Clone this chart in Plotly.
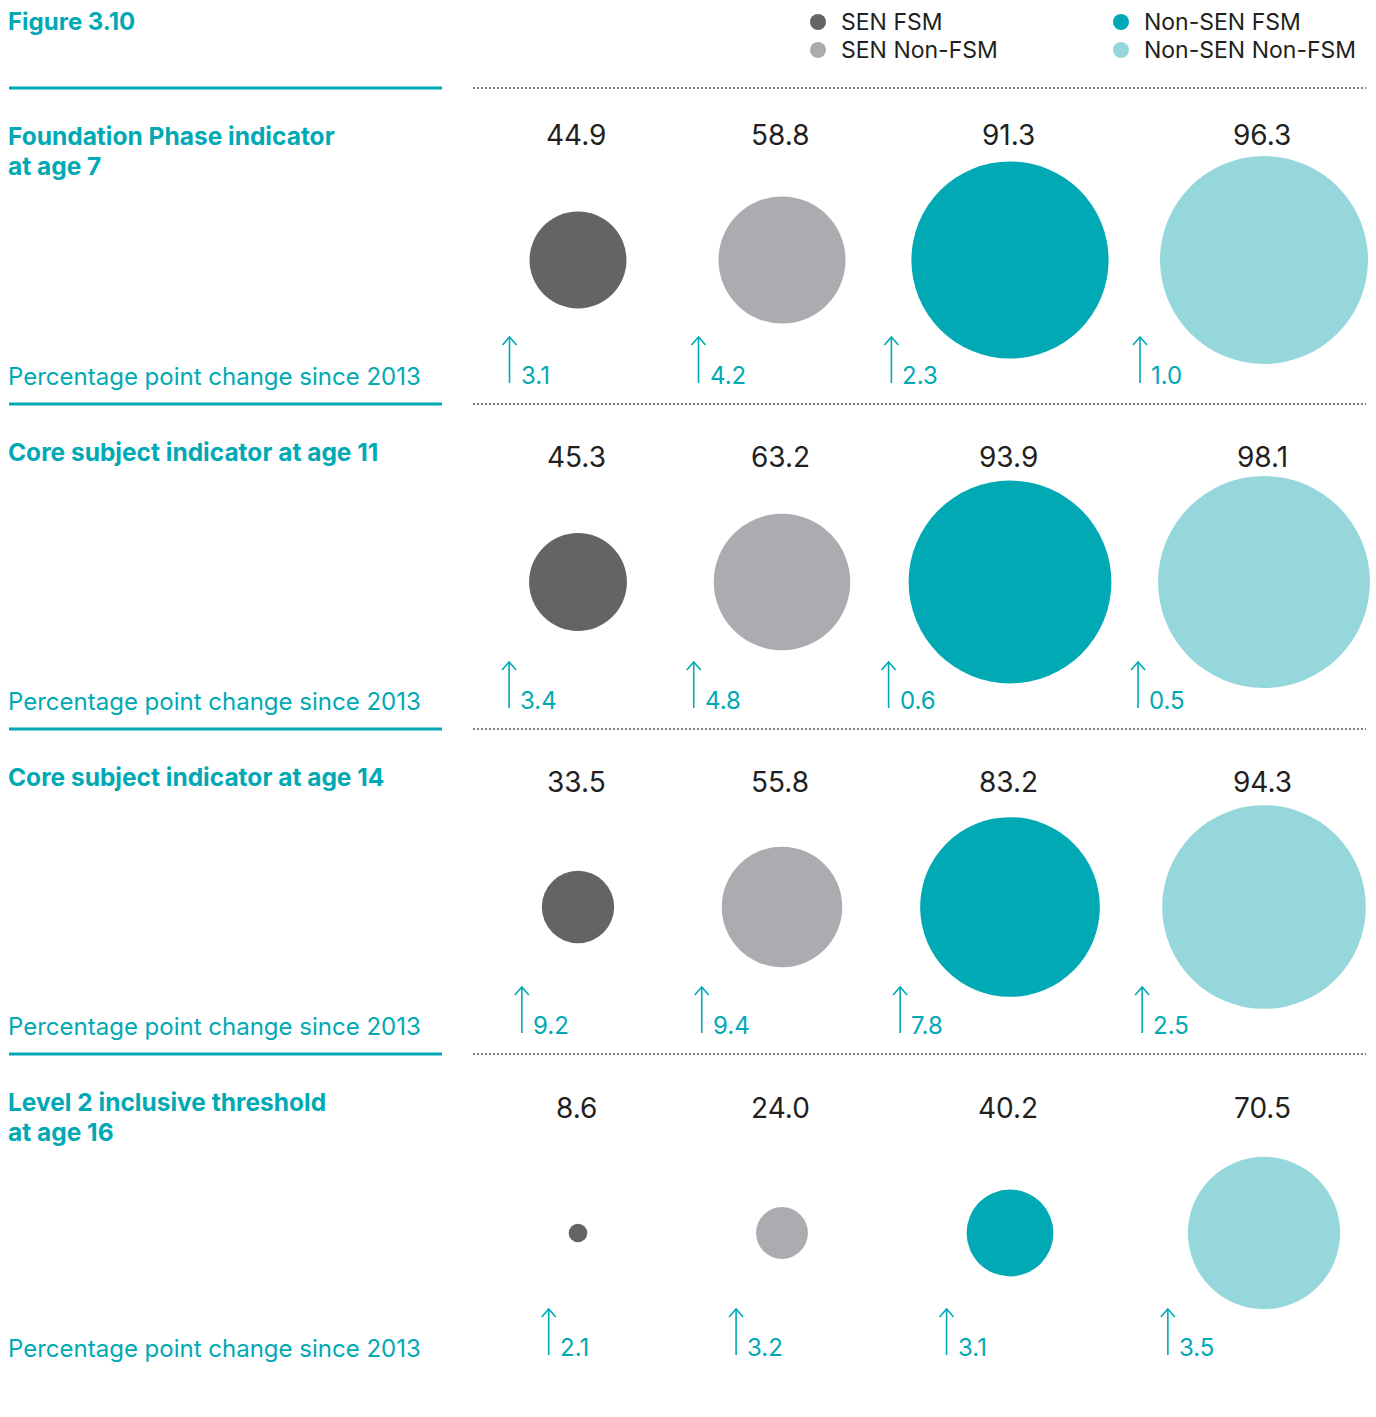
import plotly.graph_objects as go

# ---- data -------------------------------------------------------------
groups = ["SEN FSM", "SEN Non-FSM", "Non-SEN FSM", "Non-SEN Non-FSM"]
indicators = [
    "Foundation Phase indicator<br>at age 7",
    "Core subject indicator at age 11",
    "Core subject indicator at age 14",
    "Level 2 inclusive threshold<br>at age 16",
]
sen_fsm = [44.9, 45.3, 33.5, 8.6]
sen_non_fsm = [58.8, 63.2, 55.8, 24.0]
non_sen_fsm = [91.3, 93.9, 83.2, 40.2]
non_sen_non_fsm = [96.3, 98.1, 94.3, 70.5]

change_sen_fsm = [3.1, 3.4, 9.2, 2.1]
change_sen_non_fsm = [4.2, 4.8, 9.4, 3.2]
change_non_sen_fsm = [2.3, 0.6, 7.8, 3.1]
change_non_sen_non_fsm = [1.0, 0.5, 2.5, 3.5]

change_caption = "Percentage point change since 2013"
figure_label = "Figure 3.10"

# ---- layout / style ---------------------------------------------------
W, H = 1376, 1417
col_x = [578, 782, 1010, 1264]          # bubble column centres
row_y = [260, 582, 907, 1233]           # bubble row centres
sep_y = [88, 404, 729, 1054]            # rule above each indicator block
foot_y = [376, 701, 1026, 1348]         # middle of the change captions
PX_PER_POINT = 2.16                     # bubble diameter per percentage point

colors = ["#646466", "#abacaf", "#00a9b4", "#96d7dc"]
TEAL = "#00a9b4"
INK = "#231f20"
FONT = "Inter"

values = [sen_fsm, sen_non_fsm, non_sen_fsm, non_sen_non_fsm]
changes = [change_sen_fsm, change_sen_non_fsm, change_non_sen_fsm, change_non_sen_non_fsm]

fig = go.Figure()
annotations = []

# rules: solid teal on the left, dotted grey across the bubble area
for y in sep_y:
    fig.add_trace(go.Scatter(x=[9, 442], y=[y, y], mode="lines",
                             line=dict(color=TEAL, width=3), hoverinfo="skip"))
    fig.add_trace(go.Scatter(x=[473, 1366], y=[y, y], mode="lines",
                             line=dict(color="#7d7d7f", width=2, dash="2px,2px"),
                             hoverinfo="skip"))

# bubbles, one trace per group
for g, name in enumerate(groups):
    fig.add_trace(go.Scatter(
        x=[col_x[g]] * len(row_y), y=row_y, mode="markers", name=name,
        marker=dict(size=values[g], sizemode="diameter", sizeref=1 / PX_PER_POINT,
                    color=colors[g], line=dict(width=0), opacity=1),
        cliponaxis=False, hoverinfo="skip"))

# value labels above bubbles and change arrows below-left
arrow_x, arrow_y = [], []
for g in range(4):
    for r in range(4):
        v = values[g][r]
        annotations.append(dict(
            x=col_x[g] - 2, y=row_y[r] - 125, text=f"{v:.1f}", showarrow=False,
            xanchor="center", yanchor="middle",
            font=dict(family=FONT, size=28, color=INK)))
        ax = col_x[g] - v * PX_PER_POINT / 2 - 20
        top, bottom = foot_y[r] - 39, foot_y[r] + 7
        arrow_x += [ax, ax, None, ax - 7, ax, ax + 7, None]
        arrow_y += [bottom, top, None, top + 8, top, top + 8, None]
        annotations.append(dict(
            x=ax + 9, y=foot_y[r] - 1, text=f"{changes[g][r]:.1f}", showarrow=False,
            xanchor="left", yanchor="middle",
            font=dict(family=FONT, size=24, color=TEAL)))

fig.add_trace(go.Scatter(x=arrow_x, y=arrow_y, mode="lines",
                         line=dict(color=TEAL, width=1.6), hoverinfo="skip"))

# left-hand block titles (one annotation per line) and captions
for r in range(4):
    for i, line in enumerate(indicators[r].split("<br>")):
        annotations.append(dict(
            x=6, y=sep_y[r] + 48 + 30 * i, text=f"<b>{line}</b>", showarrow=False,
            xanchor="left", yanchor="middle", align="left",
            font=dict(family=FONT, size=24.5, color=TEAL)))
    annotations.append(dict(
        x=6, y=foot_y[r], text=change_caption, showarrow=False,
        xanchor="left", yanchor="middle",
        font=dict(family=FONT, size=24, color=TEAL)))

annotations.append(dict(
    x=6, y=21, text=f"<b>{figure_label}</b>", showarrow=False,
    xanchor="left", yanchor="middle", font=dict(family=FONT, size=24, color=TEAL)))

# legend drawn as dots + labels in two columns
leg_x = [818, 818, 1121, 1121]
leg_y = [22, 50, 22, 50]
fig.add_trace(go.Scatter(x=leg_x, y=leg_y, mode="markers",
                         marker=dict(size=16, color=colors, line=dict(width=0)),
                         hoverinfo="skip"))
for g, name in enumerate(groups):
    annotations.append(dict(
        x=leg_x[g] + 21, y=leg_y[g], text=name, showarrow=False,
        xanchor="left", yanchor="middle",
        font=dict(family=FONT, size=23, color=INK)))

fig.update_layout(
    width=W, height=H, margin=dict(l=0, r=0, t=0, b=0),
    paper_bgcolor="white", plot_bgcolor="white", showlegend=False,
    xaxis=dict(range=[0, W], visible=False, fixedrange=True),
    yaxis=dict(range=[H, 0], visible=False, fixedrange=True),
    annotations=annotations,
)

fig.write_html("out.html")
